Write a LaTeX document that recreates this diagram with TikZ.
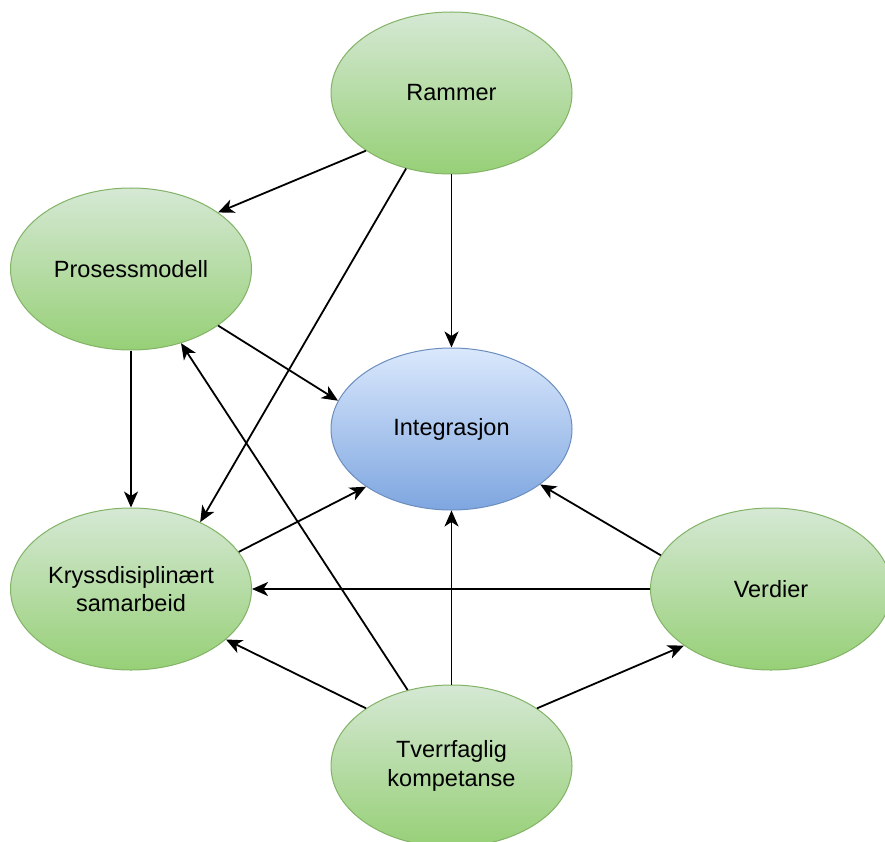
\documentclass[tikz,border=0pt]{standalone}
\usepackage{fontspec}
\setmainfont{Liberation Sans}
\usetikzlibrary{shapes.geometric,arrows.meta}
\definecolor{gtop}{HTML}{D5E8D4}
\definecolor{gbot}{HTML}{97D077}
\definecolor{gline}{HTML}{82B366}
\definecolor{btop}{HTML}{DAE8FC}
\definecolor{bbot}{HTML}{7EA6E0}
\definecolor{bline}{HTML}{6C8EBF}
\tikzset{
  greenell/.style={ellipse, draw=gline, line width=1pt, top color=gtop, bottom color=gbot,
    minimum width=241pt, minimum height=162pt, inner sep=0pt, align=center,
    font=\fontsize{23.5}{28.5}\selectfont},
  blueell/.style={greenell, draw=bline, top color=btop, bottom color=bbot},
  conn/.style={line width=1.8pt, -{Stealth[length=16pt,width=14pt,inset=4.5pt]}}
}
\begin{document}
\begin{tikzpicture}[x=1pt,y=-1pt]
\clip (0,0) rectangle (885,842);
\fill[white] (0,0) rectangle (885,842);
\node[greenell] (ram) at (451.5,93) {Rammer};
\node[greenell] (pro) at (131,269) {Prosessmodell};
\node[blueell] (int) at (451.5,429) {Integrasjon};
\node[greenell] (kry) at (131,589) {Kryssdisiplinært\\samarbeid};
\node[greenell] (ver) at (771,589) {Verdier};
\node[greenell] (tve) at (451.5,766) {Tverrfaglig\\kompetanse};

\draw[conn] (ram.214.9) -- (pro.33.7);
\draw[conn] (ram.239.5) -- (kry.44.2);
\draw[conn] (ram.south) -- (int.north);
\draw[conn] (pro.-33.2) -- (int.166.8);
\draw[conn] (pro.south) -- (kry.north);
\draw[conn] (tve.120.8) -- (pro.-56);
\draw[conn] (kry.19.6) -- (int.214);
\draw[conn] (ver.163.4) -- (int.-32.8);
\draw[conn] (ver.west) -- (kry.east);
\draw[conn] (tve.north) -- (int.south);
\draw[conn] (tve.146.3) -- (kry.-28.2);
\draw[conn] (tve.34) -- (ver.213.7);
\end{tikzpicture}
\end{document}
